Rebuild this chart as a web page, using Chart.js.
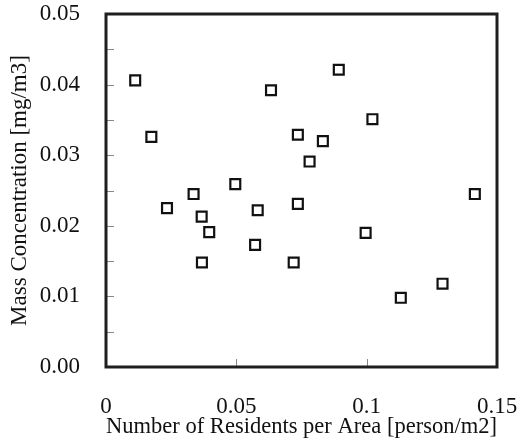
<!DOCTYPE html>
<html>
<head>
<meta charset="utf-8">
<script src="https://cdn.jsdelivr.net/npm/chart.js@4/dist/chart.umd.min.js"></script>
<style>
  html,body{margin:0;padding:0;background:#fff;}
  #wrap{width:520px;height:445px;}
</style>
</head>
<body>
<div id="wrap"><canvas id="scatter" width="520" height="445"></canvas></div>
<script>
/* ===== Data ===== */
const residents = [0.0112,0.0174,0.0234,0.0336,0.0367,0.0496,0.0582,0.0633,0.0736,0.0736,0.0781,
                   0.0832,0.0893,0.1022,0.1415,0.0396,0.0572,0.0368,0.0720,0.0996,0.1131,0.1291];
const massConc  = [0.0406,0.0326,0.0225,0.0245,0.0213,0.0259,0.0222,0.0392,0.0329,0.0231,0.0291,
                   0.0320,0.0421,0.0351,0.0245,0.0191,0.0173,0.0148,0.0148,0.0190,0.0098,0.0118];
const xTickLabels = ["0","0.05","0.1","0.15"];
const yTickLabels = ["0.00","0.01","0.02","0.03","0.04","0.05"];

const FONT = {family:"'Liberation Serif', 'Times New Roman', serif", size:23};

/* frame + short inward ticks */
const framePlugin = {
  id:"frame",
  afterDatasetsDraw(chart){
    const {ctx, chartArea:a, scales:{x,y}} = chart;
    ctx.save();
    ctx.strokeStyle = "#888";
    ctx.lineWidth = 1;
    y.ticks.forEach(t=>{
      const py = Math.round(y.getPixelForValue(t.value))+0.5;
      ctx.beginPath(); ctx.moveTo(a.left, py); ctx.lineTo(a.left+8, py); ctx.stroke();
    });
    x.ticks.forEach(t=>{
      const px = Math.round(x.getPixelForValue(t.value))+0.5;
      ctx.beginPath(); ctx.moveTo(px, a.bottom); ctx.lineTo(px, a.bottom-8); ctx.stroke();
    });
    ctx.strokeStyle = "#1e1e1e";
    ctx.lineWidth = 3;
    ctx.strokeRect(a.left, a.top, a.right-a.left, a.bottom-a.top);
    ctx.restore();
  }
};

new Chart(document.getElementById("scatter"),{
  type:"scatter",
  data:{
    datasets:[{
      data:residents.map((v,i)=>({x:v, y:massConc[i]})),
      pointStyle:"rect",
      pointRadius:7,
      pointHoverRadius:7,
      borderWidth:2.2,
      borderColor:"#111",
      backgroundColor:"#fff"
    }]
  },
  options:{
    responsive:false,
    animation:false,
    layout:{padding:{left:0,right:23,top:14,bottom:0}},
    plugins:{legend:{display:false},tooltip:{enabled:false}},
    scales:{
      x:{
        type:"linear",min:0,max:0.15,
        afterFit:s=>{s.height=78; s.paddingLeft=0; s.paddingRight=0;},
        border:{display:false},
        grid:{display:false,drawTicks:false},
        ticks:{stepSize:0.05,padding:26,color:"#111",font:FONT,maxRotation:0,
          callback:(v,i)=>xTickLabels[i]},
        title:{display:true,text:"Number of Residents per Area [person/m2]",color:"#111",font:FONT,
          padding:{top:0,bottom:4}}
      },
      y:{
        type:"linear",min:0,max:0.05,
        afterFit:s=>{s.width=106; s.paddingTop=0; s.paddingBottom=0;},
        border:{display:false},
        grid:{display:false,drawTicks:false},
        ticks:{stepSize:0.005,padding:26,color:"#111",font:FONT,
          callback:(v,i)=>i%2===0 ? yTickLabels[i/2] : ""},
        title:{display:true,text:"Mass Concentration [mg/m3]",color:"#111",font:FONT,
          padding:{top:6,bottom:0}}
      }
    }
  },
  plugins:[framePlugin]
});
</script>
</body>
</html>
